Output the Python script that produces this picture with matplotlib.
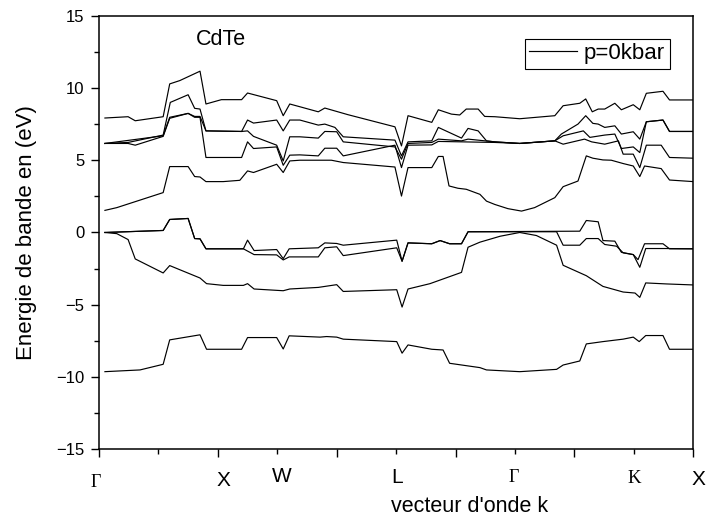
import matplotlib
matplotlib.use("Agg")
import matplotlib.pyplot as plt
from matplotlib.ticker import MultipleLocator

# ------------------------------------
#   Band data
# ------------------------------------

# conduction bands
k_c1 = [0.10, 0.30, 1.08, 1.19, 1.50, 1.61, 1.70, 1.80, 2.09, 2.37, 2.50, 2.60, 2.99, 3.10, 3.21, 3.38,
        3.91, 4.11, 4.98, 5.09, 5.20, 5.60, 5.71, 5.79, 5.89, 6.04, 6.18, 6.41, 6.52, 6.66, 6.88, 7.11,
        7.33, 7.67, 7.81, 8.06, 8.20, 8.31, 8.48, 8.62, 8.82, 8.99, 9.10, 9.18, 9.46, 9.60, 10.0]
e_c1 = [1.53, 1.72, 2.76, 4.56, 4.56, 3.87, 3.84, 3.52, 3.52, 3.61, 4.26, 4.15, 4.72, 4.15, 4.95, 5.00,
        5.00, 4.84, 4.53, 2.52, 4.49, 4.49, 5.26, 5.26, 3.22, 3.06, 2.99, 2.64, 2.17, 1.94, 1.65, 1.48,
        1.72, 2.41, 3.17, 3.56, 5.30, 5.14, 5.02, 5.00, 4.77, 4.60, 3.87, 4.60, 4.42, 3.63, 3.52]

k_c2 = [0.10, 0.49, 0.61, 1.08, 1.19, 1.50, 1.61, 1.70, 1.80, 2.40, 2.50, 2.60, 2.99, 3.10, 3.21, 3.38,
        3.69, 3.80, 4.00, 4.11, 4.98, 5.09, 5.20, 5.60, 5.71, 6.66, 7.08, 7.67, 7.81, 8.17, 8.29, 8.51,
        8.74, 8.82, 8.99, 9.10, 9.21, 9.46, 9.60, 10.0]
e_c2 = [6.16, 6.16, 6.04, 6.65, 7.90, 8.24, 7.97, 7.97, 5.19, 5.19, 6.27, 5.81, 5.92, 4.65, 5.35, 5.37,
        5.30, 5.83, 5.83, 5.30, 6.04, 4.49, 6.04, 6.06, 6.30, 6.23, 6.16, 6.34, 6.11, 6.46, 6.27, 6.11,
        6.34, 5.42, 5.42, 4.49, 6.04, 6.04, 5.19, 5.14]

k_c3 = [0.10, 1.08, 1.19, 1.50, 1.61, 1.70, 1.80, 2.40, 2.50, 2.60, 2.99, 3.10, 3.21, 3.38, 3.69, 3.80,
        4.00, 4.11, 4.98, 5.09, 5.20, 5.60, 5.71, 6.10, 6.21, 6.66, 7.08, 7.67, 7.81, 8.15, 8.26, 8.51,
        8.68, 8.79, 8.99, 9.10, 9.21, 9.49, 9.60, 10.0]
e_c3 = [6.16, 6.69, 7.97, 8.24, 8.03, 8.03, 7.03, 6.99, 7.03, 6.65, 6.04, 4.95, 6.62, 6.62, 6.53, 6.99,
        6.97, 6.27, 5.92, 5.07, 6.16, 6.23, 6.46, 6.34, 6.46, 6.27, 6.16, 6.34, 6.69, 7.03, 6.58, 6.74,
        6.81, 5.81, 5.92, 5.53, 7.66, 7.78, 6.99, 6.99]

k_c4 = [0.10, 0.49, 1.08, 1.20, 1.50, 1.61, 1.70, 1.80, 2.40, 2.50, 2.60, 2.99, 3.10, 3.21, 3.38, 3.69,
        3.80, 3.97, 4.11, 4.98, 5.09, 5.20, 5.60, 5.71, 6.10, 6.21, 6.38, 6.52, 6.66, 7.08, 7.67, 7.78,
        8.06, 8.19, 8.31, 8.40, 8.51, 8.68, 8.79, 8.99, 9.10, 9.21, 9.49, 9.60, 10.0]
e_c4 = [6.16, 6.23, 6.74, 9.00, 9.53, 8.59, 8.54, 7.03, 6.99, 7.78, 7.57, 7.78, 7.03, 7.78, 7.78, 7.43,
        7.50, 7.27, 6.62, 6.39, 5.30, 6.27, 6.34, 7.27, 6.53, 7.20, 7.03, 6.34, 6.27, 6.16, 6.34, 6.81,
        7.50, 8.08, 7.55, 7.50, 7.27, 7.38, 6.81, 6.97, 6.46, 7.66, 7.78, 6.99, 6.99]

k_c5 = [0.10, 0.49, 0.61, 1.08, 1.19, 1.36, 1.70, 1.80, 2.06, 2.40, 2.50, 2.99, 3.10, 3.21, 3.38, 3.69,
        3.80, 4.19, 4.98, 5.09, 5.20, 5.60, 5.71, 5.93, 6.07, 6.18, 6.38, 6.49, 6.66, 7.08, 7.67, 7.81,
        8.09, 8.19, 8.30, 8.40, 8.51, 8.68, 8.79, 8.99, 9.10, 9.21, 9.49, 9.60, 10.0]
e_c5 = [7.92, 8.01, 7.73, 8.01, 10.28, 10.51, 11.16, 8.89, 9.19, 9.19, 9.65, 9.12, 8.08, 8.89, 8.70, 8.35,
        8.61, 8.15, 7.31, 5.99, 8.08, 7.62, 8.49, 8.19, 8.13, 8.54, 8.54, 8.03, 8.01, 7.87, 8.08, 8.77,
        8.94, 9.24, 8.35, 8.54, 8.54, 8.94, 8.49, 8.84, 8.49, 9.63, 9.77, 9.17, 9.17]

# valence bands
k_v1 = [0.10, 1.08, 1.19, 1.50, 1.61, 1.70, 1.80, 2.43, 2.50, 2.61, 2.99, 3.10, 3.20, 3.69, 3.80, 4.00,
        4.11, 5.01, 5.10, 5.20, 5.60, 5.74, 5.90, 6.10, 6.21, 8.09, 8.20, 8.40, 8.48, 8.68, 8.79, 8.99,
        9.07, 9.18, 9.49, 9.60, 10.0]
e_v1 = [0.00, 0.14, 0.90, 0.97, -0.42, -0.44, -1.13, -1.13, -0.53, -1.25, -1.18, -1.81, -1.13, -1.06,
        -0.72, -0.76, -0.88, -0.53, -1.99, -0.72, -0.78, -0.56, -0.78, -0.78, 0.05, 0.09, 0.83, 0.74,
        -0.56, -0.60, -1.37, -1.53, -1.88, -0.78, -0.78, -1.13, -1.13]

k_v2 = [0.10, 1.08, 1.19, 1.50, 1.61, 1.70, 1.80, 2.43, 2.61, 2.99, 3.10, 3.20, 3.69, 3.80, 4.00, 4.11,
        5.01, 5.10, 5.20, 5.60, 5.74, 5.90, 6.10, 6.21, 7.70, 7.81, 8.09, 8.20, 8.40, 8.51, 8.71, 8.82,
        8.99, 9.10, 9.20, 9.55, 10.0]
e_v2 = [0.00, 0.14, 0.90, 0.97, -0.42, -0.44, -1.13, -1.13, -1.53, -1.55, -1.90, -1.69, -1.69, -1.06,
        -0.99, -1.60, -1.06, -1.99, -0.72, -0.78, -0.56, -0.78, -0.78, 0.05, 0.05, -0.88, -0.88, -0.42,
        -0.42, -0.83, -0.95, -1.41, -1.53, -2.41, -1.11, -1.11, -1.13]

k_v3 = [0.10, 0.30, 0.49, 0.61, 1.08, 1.19, 1.70, 1.81, 2.09, 2.43, 2.50, 2.61, 3.10, 3.21, 3.69, 4.00,
        4.11, 5.01, 5.10, 5.20, 5.57, 6.10, 6.21, 6.41, 6.75, 7.08, 7.36, 7.70, 7.81, 8.20, 8.48, 8.82,
        9.02, 9.10, 9.20, 9.55, 10.0]
e_v3 = [0.00, -0.08, -0.49, -1.83, -2.80, -2.29, -3.15, -3.54, -3.66, -3.66, -3.54, -3.91, -4.03, -3.91,
        -3.80, -3.61, -4.08, -3.96, -5.16, -3.91, -3.54, -2.76, -1.02, -0.67, -0.26, 0.00, -0.21, -0.88,
        -2.27, -2.99, -3.73, -4.12, -4.19, -4.49, -3.49, -3.56, -3.63]

k_v4 = [0.10, 0.69, 1.08, 1.19, 1.70, 1.81, 2.40, 2.50, 2.99, 3.10, 3.20, 3.72, 3.83, 4.00, 4.11, 5.01,
        5.10, 5.20, 5.60, 5.79, 5.90, 6.41, 6.52, 7.08, 7.70, 7.81, 8.09, 8.20, 8.48, 8.82, 8.99, 9.09,
        9.20, 9.49, 9.60, 10.0]
e_v4 = [-9.63, -9.51, -9.12, -7.43, -7.08, -8.08, -8.08, -7.27, -7.27, -8.06, -7.15, -7.24, -7.20, -7.24,
        -7.38, -7.55, -8.35, -7.78, -8.08, -8.13, -9.05, -9.35, -9.51, -9.63, -9.47, -9.17, -8.89, -7.71,
        -7.55, -7.38, -7.24, -7.55, -7.13, -7.13, -8.08, -8.08]

# high symmetry points along the path
sym_names = ['\u0393', 'X', 'W', 'L', '\u0393', 'K', 'X']
sym_k = [-0.05, 2.09, 3.07, 5.02, 6.98, 9.0, 10.08]

bands = [(k_c1, e_c1), (k_c2, e_c2), (k_c3, e_c3), (k_c4, e_c4), (k_c5, e_c5),
         (k_v1, e_v1), (k_v2, e_v2), (k_v3, e_v3), (k_v4, e_v4)]

# label layout: baseline (axes fraction), font, size
lab_y = [-0.086, -0.085, -0.075, -0.078, -0.075, -0.077, -0.082]
lab_serif = [True, False, False, False, True, True, False]
lab_size = [13, 15, 15, 15, 13, 13.5, 15]

plt.rcParams['font.family'] = ['Liberation Sans', 'DejaVu Sans']

fig = plt.figure(figsize=(7.07, 5.16), dpi=100)
ax = fig.add_axes([0.140, 0.1293, 0.8406, 0.8403])

for i, (k, e) in enumerate(bands):
    ax.plot(k, e, color='black', lw=0.85, label='p=0kbar' if i == 0 else None)

ax.set_xlim(0, 10)
ax.set_ylim(-15, 15)
ax.yaxis.set_major_locator(MultipleLocator(5))
ax.yaxis.set_minor_locator(MultipleLocator(2.5))
ax.xaxis.set_major_locator(MultipleLocator(2))
ax.xaxis.set_minor_locator(MultipleLocator(1))
ax.set_xticklabels([])
ax.tick_params(which='major', direction='out', length=6, width=1.0, labelsize=12, pad=4.5)
ax.tick_params(which='minor', direction='out', length=3.5, width=1.0)
for s in ax.spines.values():
    s.set_linewidth(1.1)

ax.set_ylabel('Energie de bande en (eV)', fontsize=16)
ax.yaxis.set_label_coords(-0.105, 0.5)
ax.text(0.624, -0.144, "vecteur d'onde k", transform=ax.transAxes, fontsize=15.5,
        ha='center', va='baseline')

trans = ax.get_xaxis_transform()
for name, k, y, serif, size in zip(sym_names, sym_k, lab_y, lab_serif, lab_size):
    fam = 'Liberation Serif' if serif else 'Liberation Sans'
    ax.text(k, y, name, transform=trans, ha='center', va='baseline',
            fontsize=size, family=fam)

ax.text(0.163, 0.932, 'CdTe', transform=ax.transAxes, fontsize=15.5, ha='left', va='baseline')

leg = ax.legend(loc='upper right', bbox_to_anchor=(0.96, 0.947), borderaxespad=0,
                fontsize=16, fancybox=False, framealpha=1, edgecolor='black',
                handlelength=2.15, handletextpad=0.3, borderpad=0.2)
leg.get_frame().set_linewidth(0.8)

fig.savefig('out.png', dpi=100)
